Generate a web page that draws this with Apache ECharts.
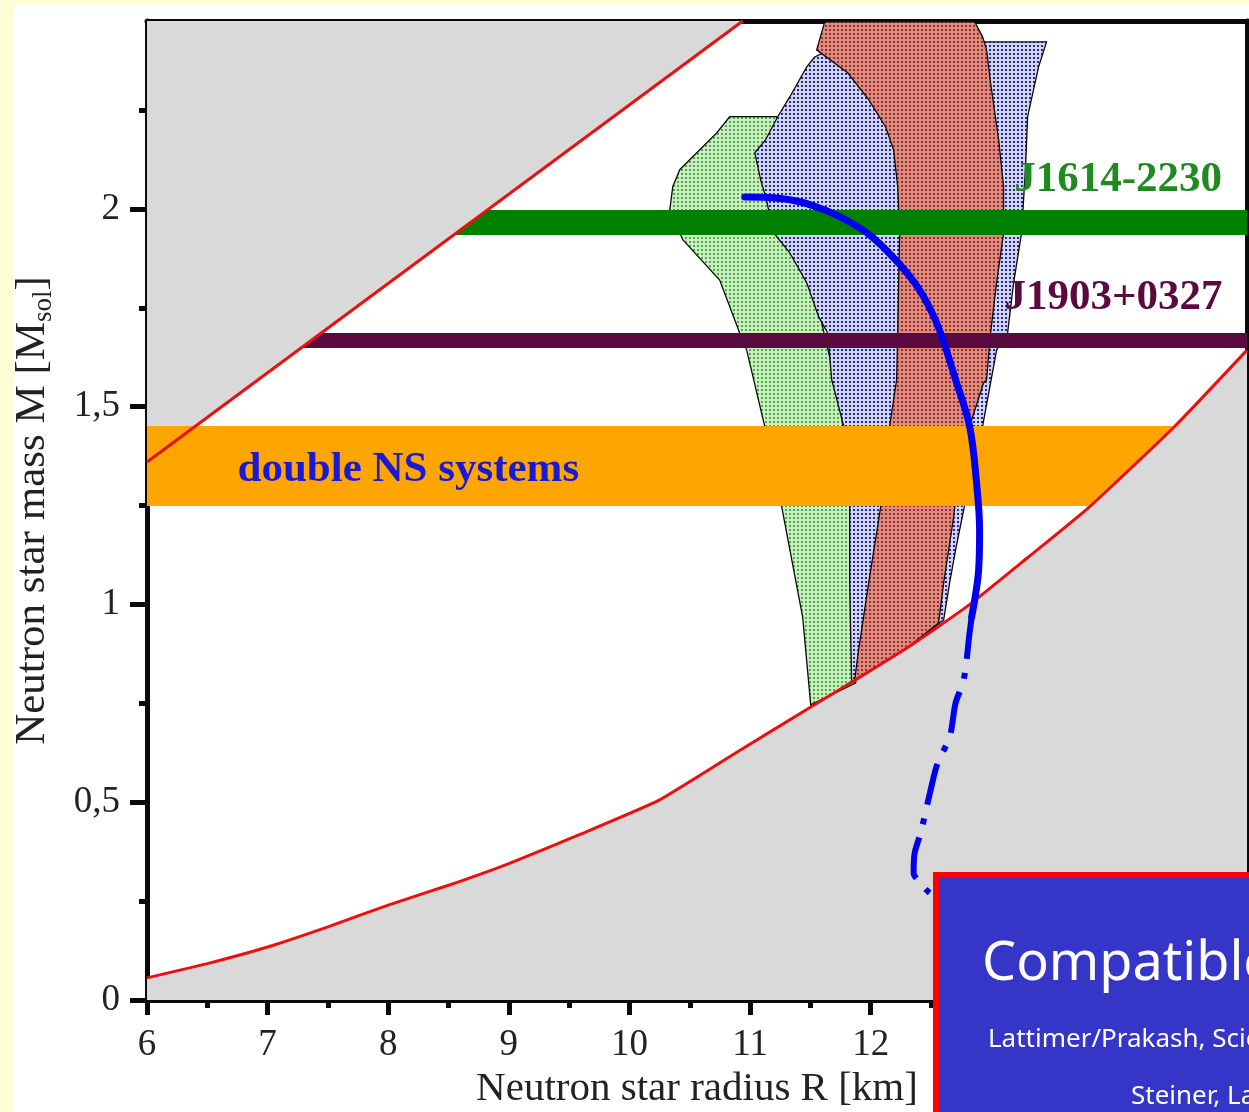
<!DOCTYPE html>
<html><head><meta charset="utf-8">
<script src="https://cdn.jsdelivr.net/npm/echarts@6/dist/echarts.min.js"></script>
<style>html,body{margin:0;padding:0;background:#fffdd6;overflow:hidden}#c{width:1249px;height:1112px}</style>
</head><body><div id="c"></div>
<script>
// ---------- data (R in km, M in solar masses) ----------
const xTicks = [6,7,8,9,10,11,12,13,14,15];
const xTickLabels = [6,7,8,9,10,11,12];
const xMinorTicks = [6.5,7.5,8.5,9.5,10.5,11.5,12.5,13.5,14.5];
const yTicks = [0,0.5,1,1.5,2];
const yMinorTicks = [0.25,0.75,1.25,1.75,2.25];

// causality limit (upper red line)
const causalR = [6, 10.939];
const causalM = [1.360, 2.475];
// lower red boundary curve
const lowerR = [6, 6.5, 7, 7.5, 8, 8.5, 9, 9.6, 10.25, 10.92, 11.5, 11.85, 12.3, 12.8, 13.3, 13.8, 14.52, 15.12];
const lowerM = [0.056, 0.092, 0.134, 0.185, 0.24, 0.29, 0.345, 0.42, 0.506, 0.632, 0.74, 0.805, 0.89, 0.995, 1.118, 1.243, 1.45, 1.643];

// mass bands
const j1614R = [8.543, 8.822, 15.12, 15.12];
const j1614M = [1.934, 1.997, 1.997, 1.934];
const j1903R = [7.276, 7.444, 15.12, 15.12];
const j1903M = [1.648, 1.686, 1.686, 1.648];
const dnsR = [6, 6, 14.52, 13.80];
const dnsM = [1.249, 1.451, 1.451, 1.249];

// green (left) constraint region
const greenR = [10.831, 11.221, 11.329, 11.453, 11.743, 11.842, 11.876, 11.503, 11.436, 11.262, 11.121, 10.972, 10.914, 10.748, 10.442, 10.334, 10.359, 10.417, 10.723];
const greenM = [2.233, 2.233, 2.175, 1.896, 1.517, 1.264, 0.802, 0.746, 0.968, 1.247, 1.451, 1.643, 1.686, 1.820, 1.922, 1.997, 2.056, 2.099, 2.192];
// lavender region
const lavR = [11.536, 11.470, 11.329, 11.229, 11.130, 11.039, 11.088, 11.130, 11.196, 11.329, 11.470, 11.569, 11.644, 11.677, 11.776, 11.826, 11.826, 11.842, 12.3, 12.605, 12.654, 12.704, 12.771, 12.928, 12.994, 13.044, 13.135, 13.185, 13.251, 13.284, 13.301, 13.392, 13.458, 12.978, 11.743];
const lavM = [2.384, 2.359, 2.283, 2.233, 2.175, 2.142, 2.073, 2.030, 1.939, 1.889, 1.813, 1.727, 1.686, 1.568, 1.451, 1.247, 1.054, 0.802, 0.89, 0.961, 1.054, 1.138, 1.239, 1.451, 1.560, 1.643, 1.686, 1.813, 1.939, 2.106, 2.233, 2.359, 2.422, 2.422, 2.415];
// red region
const redR = [11.619, 12.862, 12.928, 12.961, 12.994, 13.061, 13.102, 13.102, 13.044, 12.994, 12.961, 12.936, 12.845, 12.754, 12.688, 12.605, 12.563, 12.3, 11.867, 11.900, 11.983, 12.083, 12.157, 12.215, 12.224, 12.232, 12.240, 12.224, 12.190, 12.124, 11.983, 11.809, 11.552];
const redM = [2.473, 2.473, 2.435, 2.402, 2.319, 2.175, 2.056, 1.939, 1.813, 1.686, 1.568, 1.560, 1.474, 1.391, 1.221, 1.054, 0.953, 0.89, 0.809, 0.885, 1.054, 1.247, 1.451, 1.568, 1.686, 1.813, 1.939, 2.056, 2.149, 2.207, 2.276, 2.344, 2.402];

// EOS mass-radius curve
const eosSolidR = [10.956, 11.188, 11.411, 11.635, 11.826, 11.992, 12.182, 12.365, 12.489, 12.580, 12.704, 12.820, 12.878, 12.903, 12.895, 12.837];
const eosSolidM = [2.030, 2.028, 2.018, 1.995, 1.967, 1.934, 1.879, 1.813, 1.750, 1.686, 1.568, 1.451, 1.307, 1.188, 1.087, 0.968];
const eosDashR = [12.837, 12.820, 12.771, 12.704, 12.655, 12.555, 12.497, 12.414, 12.365, 12.356, 12.406, 12.481, 12.65];
const eosDashM = [0.968, 0.928, 0.809, 0.751, 0.665, 0.599, 0.531, 0.422, 0.372, 0.321, 0.298, 0.273, 0.24];

// annotations
const labelTexts = ['J1614-2230', 'J1903+0327', 'double NS systems'];
const labelR = [13.19, 13.11, 6.75];
const labelM = [2.073, 1.775, 1.340];

// ---------- chart ----------
const zip = (a, b) => a.map((v, i) => [v, b[i]]);
function dots(bg, dot) {
  const c = document.createElement('canvas'); c.width = 4; c.height = 4;
  const g = c.getContext('2d');
  g.fillStyle = bg; g.fillRect(0, 0, 4, 4);
  g.fillStyle = dot; g.fillRect(1, 1, 2, 2);
  return { image: c, repeat: 'repeat' };
}
function poly(Rs, Ms, style, z) {
  return {
    type: 'custom', z: z, silent: true, xAxisIndex: 0, yAxisIndex: 0,
    data: [[Rs[0], Ms[0]]],
    renderItem: (p, api) => ({
      type: 'polygon',
      shape: { points: Rs.map((r, i) => api.coord([r, Ms[i]])) },
      style: style
    })
  };
}
const grey = '#d9d9d9';
const serif = '"Liberation Serif", "Times New Roman", serif';
const comic = '"Comic Sans MS", "Noto Sans", sans-serif';
const labelColors = ['#1f8a1f', '#5a0a3c', '#1a1ad6'];
const ink = '#0a0a0a';
const lw = 5;

const baseAxis = { type: 'value', splitLine: { show: false } };
const option = {
  animation: false,
  backgroundColor: 'transparent',
  grid: { left: 147, top: 21, width: 1100, height: 979, outerBoundsMode: 'none' },
  xAxis: [
    Object.assign({}, baseAxis, {
      min: 6, max: 15.12, position: 'bottom',
      axisLine: { show: true, onZero: false, lineStyle: { color: ink, width: lw } },
      axisTick: { show: true, customValues: xTicks, length: 15, lineStyle: { color: ink, width: lw } },
      axisLabel: { customValues: xTickLabels, margin: 27, fontFamily: serif, fontSize: 37, color: '#222' },
      name: 'Neutron star radius R [km]', nameLocation: 'middle', nameGap: 69,
      nameTextStyle: { fontFamily: serif, fontSize: 41, color: '#222' }
    }),
    Object.assign({}, baseAxis, {
      min: 6, max: 15.12, position: 'bottom',
      axisLine: { show: false, onZero: false },
      axisTick: { show: true, customValues: xMinorTicks, length: 8, lineStyle: { color: ink, width: lw } },
      axisLabel: { show: false }
    }),
    Object.assign({}, baseAxis, {
      min: 6, max: 15.12, position: 'top',
      axisLine: { show: true, onZero: false, lineStyle: { color: ink, width: lw } },
      axisTick: { show: false }, axisLabel: { show: false }
    })
  ],
  yAxis: [
    Object.assign({}, baseAxis, {
      min: 0, max: 2.475, position: 'left',
      axisLine: { show: true, onZero: false, lineStyle: { color: ink, width: lw } },
      axisTick: { show: true, customValues: yTicks, length: 17, lineStyle: { color: ink, width: lw } },
      axisLabel: { customValues: yTicks, margin: 27, fontFamily: serif, fontSize: 37, color: '#222',
        formatter: v => String(v).replace('.', ',') },
      name: '{a|Neutron star mass M [M}{s|sol}{a|]}', nameLocation: 'middle', nameGap: 90, nameRotate: 90,
      nameTextStyle: { rich: {
        a: { fontFamily: serif, fontSize: 43, lineHeight: 48, color: '#222' },
        s: { fontFamily: serif, fontSize: 27, lineHeight: 27, color: '#222', padding: [23, 0, 0, 0], verticalAlign: 'bottom' }
      } }
    }),
    Object.assign({}, baseAxis, {
      min: 0, max: 2.475, position: 'left',
      axisLine: { show: false, onZero: false },
      axisTick: { show: true, customValues: yMinorTicks, length: 8, lineStyle: { color: ink, width: lw } },
      axisLabel: { show: false }
    }),
    Object.assign({}, baseAxis, {
      min: 0, max: 2.475, position: 'right',
      axisLine: { show: true, onZero: false, lineStyle: { color: ink, width: lw } },
      axisTick: { show: false }, axisLabel: { show: false }
    })
  ],
  series: [
    poly([causalR[0], causalR[1], causalR[0]], [causalM[0], causalM[1], causalM[1]], { fill: grey }, 1),
    poly(lowerR.concat([15.12, 6]), lowerM.concat([0, 0]), { fill: grey }, 1),
    poly(greenR, greenM, { fill: dots('#cdeec0', '#48ae48'), stroke: ink, lineWidth: 1.3 }, 2),
    poly(lavR, lavM, { fill: dots('#d2d6eb', '#2626a0'), stroke: ink, lineWidth: 1.3 }, 3),
    poly(redR, redM, { fill: dots('#dc8c80', '#9a2c2c'), stroke: ink, lineWidth: 1.3 }, 4),
    poly(j1614R, j1614M, { fill: '#008000' }, 5),
    poly(j1903R, j1903M, { fill: '#5a0a3f' }, 5),
    poly(dnsR, dnsM, { fill: '#ffa500' }, 5),
    { type: 'line', z: 6, silent: true, showSymbol: false, data: zip(causalR, causalM),
      lineStyle: { color: '#ea1010', width: 3 } },
    { type: 'line', z: 6, silent: true, showSymbol: false, data: zip(lowerR, lowerM), smooth: 0.15,
      lineStyle: { color: '#ea1010', width: 3 } },
    { type: 'line', z: 7, silent: true, showSymbol: false, data: zip(eosSolidR, eosSolidM), smooth: 0.35,
      lineStyle: { color: '#0000ee', width: 7, cap: 'round' } },
    { type: 'line', z: 7, silent: true, showSymbol: false, data: zip(eosDashR, eosDashM), smooth: 0.3,
      lineStyle: { color: '#0000ee', width: 6, type: [42, 14, 6, 14] } },
    { type: 'custom', z: 8, silent: true,
      data: zip(labelR, labelM),
      renderItem: (p, api) => {
        const pt = api.coord([api.value(0), api.value(1)]);
        return { type: 'text', x: pt[0], y: pt[1], style: {
          text: labelTexts[p.dataIndex], fill: labelColors[p.dataIndex],
          font: 'bold 43px ' + serif, align: 'left', verticalAlign: 'middle',
          textAlign: 'left', textVerticalAlign: 'middle' } };
      } }
  ],
  graphic: [
    { type: 'rect', z: -100, silent: true, shape: { x: 13, y: 5, width: 1300, height: 1200 }, style: { fill: '#ffffff' } },
    { type: 'rect', z: 100, silent: true, shape: { x: 936, y: 875, width: 400, height: 300 },
      style: { fill: '#3535c8', stroke: '#ff0000', lineWidth: 6 } },
    { type: 'text', z: 101, silent: true, x: 982, y: 965, style: { text: 'Compatible with',
      font: '54px ' + comic, fill: '#ffffff', verticalAlign: 'middle',
      textShadowColor: '#000', textShadowOffsetX: 2, textShadowOffsetY: 2 } },
    { type: 'text', z: 101, silent: true, x: 988, y: 1040, style: { text: 'Lattimer/Prakash, Science',
      font: '26px ' + comic, fill: '#ffffff', verticalAlign: 'middle',
      textShadowColor: '#000', textShadowOffsetX: 1, textShadowOffsetY: 1 } },
    { type: 'text', z: 101, silent: true, x: 1131, y: 1097, style: { text: 'Steiner, Lattimer',
      font: '26px ' + comic, fill: '#ffffff', verticalAlign: 'middle',
      textShadowColor: '#000', textShadowOffsetX: 1, textShadowOffsetY: 1 } }
  ]
};
const chart = echarts.init(document.getElementById('c'));
chart.setOption(option);
</script>
</body></html>
